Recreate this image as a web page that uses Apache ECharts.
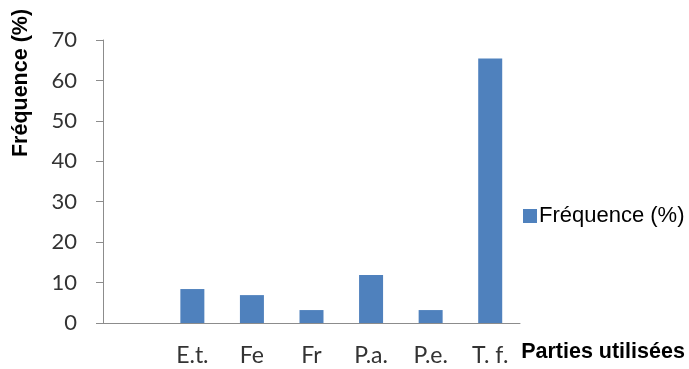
<!DOCTYPE html>
<html><head><meta charset="utf-8">
<script src="https://cdn.jsdelivr.net/npm/echarts@6/dist/echarts.min.js"></script>
<style>html,body{margin:0;padding:0;background:#fff}#c{width:689px;height:369px}</style>
</head><body><div id="c"></div>
<script>
const categories = ['', 'E.t.', 'Fe', 'Fr', 'P.a.', 'P.e.', 'T. f.'];
const values = [null, 8.4, 6.9, 3.2, 11.9, 3.2, 65.4];
const seriesName = 'Fréquence (%)';
const yTicks = [0, 10, 20, 30, 40, 50, 60, 70];

const chart = echarts.init(document.getElementById('c'), null, {renderer: 'canvas'});
chart.setOption({
  animation: false,
  backgroundColor: '#fff',
  grid: {left: 103, right: 169, top: 40, bottom: 46},
  legend: {
    data: [seriesName], left: 523, top: 205, padding: 0, icon: 'rect', itemWidth: 14, itemHeight: 14, itemGap: 4,
    textStyle: {fontFamily: 'Liberation Sans, Arial, sans-serif', fontSize: 22, color: '#000', padding: [0,0,0,-3]}
  },
  xAxis: {
    type: 'category', data: categories,
    axisLine: {lineStyle: {color: '#8c8c8c', width: 1}},
    axisTick: {show: false},
    axisLabel: {margin: 21, fontFamily: 'Lato, Open Sans, sans-serif', fontSize: 23, color: '#333', interval: 0}
  },
  yAxis: {
    type: 'value', min: yTicks[0], max: yTicks[yTicks.length-1], interval: 10,
    axisLine: {show: true, lineStyle: {color: '#8c8c8c', width: 1}},
    axisTick: {show: true, length: 7, lineStyle: {color: '#8c8c8c'}},
    splitLine: {show: false},
    axisLabel: {margin: 26, fontFamily: 'Lato, Open Sans, sans-serif', fontSize: 22, color: '#333'}
  },
  graphic: [
    {type: 'text', x: 21, y: 83, rotation: Math.PI/2,
     style: {text: 'Fréquence (%)', x: 0, y: 0, align: 'center', verticalAlign: 'middle',
             font: 'bold 21.5px "Liberation Sans", Arial, sans-serif', fill: '#000'}},
    {type: 'text', x: 603, y: 352,
     style: {text: 'Parties utilisées', x: 0, y: 0, align: 'center', verticalAlign: 'middle',
             font: 'bold 21.5px "Liberation Sans", Arial, sans-serif', fill: '#000'}}
  ],
  series: [{
    name: seriesName, type: 'bar', data: values, barWidth: 24,
    itemStyle: {color: '#4F81BD'}
  }]
});
</script></body></html>
